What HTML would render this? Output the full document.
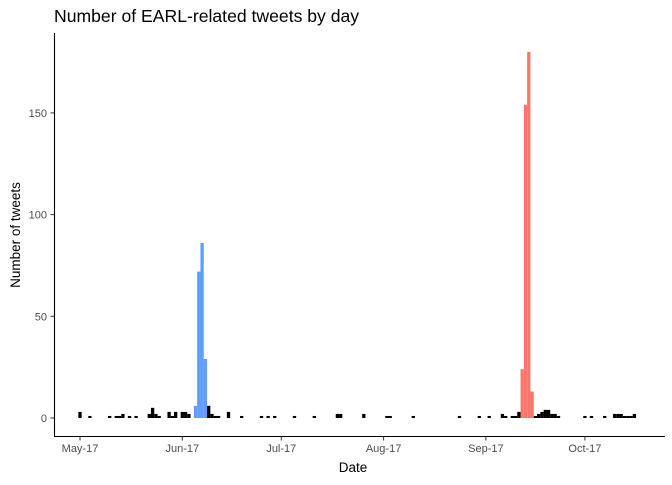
<!DOCTYPE html>
<html><head><meta charset="utf-8"><style>
body{margin:0;background:#fff;font-family:"Liberation Sans",sans-serif}
svg text{font-family:"Liberation Sans",sans-serif}
</style></head><body>
<svg id="chart" width="672" height="480">
<text x="54" y="22" font-size="17.6" fill="#000">Number of EARL-related tweets by day</text>
<line x1="54.5" y1="33" x2="54.5" y2="436" stroke="#000" stroke-width="1.1"/>
<line x1="54" y1="436.5" x2="665" y2="436.5" stroke="#000" stroke-width="1.1"/>
<text transform="translate(20,235) rotate(-90)" text-anchor="middle" font-size="13.5">Number of tweets</text>
<text x="353" y="472" text-anchor="middle" font-size="13.5">Date</text>
<g id="bars"></g><g id="ticks"></g>
</svg>
<script>
const days=[0,3,9,11,12,13,15,17,21,22,23,24,27,28,29,31,32,33,35,36,37,38,39,40,41,42,45,49,55,57,59,65,71,78,79,86,93,94,101,115,121,124,128,129,131,132,133,134,135,136,137,138,139,140,141,142,143,144,145,153,155,159,162,163,164,165,166,167,168];
const counts=[3,1,1,1,1,2,1,1,2,5,2,1,3,1,3,3,3,2,6,72,86,29,6,2,1,1,3,1,1,1,1,1,1,2,2,2,1,1,1,1,1,1,2,1,1,1,3,24,154,180,13,1,2,3,4,4,2,2,1,1,1,1,2,2,2,1,1,1,2];
const groups=days.map(d=>(d>=35&&d<=38)?'jun':((d>=134&&d<=137)?'sep':'other'));
const yTicks=[0,50,100,150];
const xTickDays=[0,31,61,92,123,153];
const xTickLabels=['May-17','Jun-17','Jul-17','Aug-17','Sep-17','Oct-17'];
const colors={jun:'#619CFF',sep:'#F8766D',other:'#000000'};
const NS='http://www.w3.org/2000/svg';
const xs=d=>80+d*3.3;
const ys=v=>418-v*2.034;
const bw=3.3;
const bars=document.getElementById('bars');
days.forEach((d,i)=>{
 const r=document.createElementNS(NS,'rect');
 r.setAttribute('x',xs(d)-bw/2);r.setAttribute('width',bw);
 r.setAttribute('y',ys(counts[i]));r.setAttribute('height',ys(0)-ys(counts[i]));
 r.setAttribute('fill',colors[groups[i]]);
 
 
 bars.appendChild(r);
});
const tk=document.getElementById('ticks');
yTicks.forEach(v=>{
 const l=document.createElementNS(NS,'line');
 l.setAttribute('x1',50.5);l.setAttribute('x2',54.5);l.setAttribute('y1',ys(v));l.setAttribute('y2',ys(v));l.setAttribute('stroke','#333');
 
 
 tk.appendChild(l);
 const t=document.createElementNS(NS,'text');
 t.setAttribute('x',47);t.setAttribute('y',ys(v)+4);t.setAttribute('text-anchor','end');t.setAttribute('font-size','11');t.setAttribute('fill','#4d4d4d');
 t.textContent=v;
 
 
 tk.appendChild(t);
});
xTickDays.forEach((d,i)=>{
 const l=document.createElementNS(NS,'line');
 l.setAttribute('x1',xs(d));l.setAttribute('x2',xs(d));l.setAttribute('y1',436.5);l.setAttribute('y2',440.5);l.setAttribute('stroke','#333');
 
 
 tk.appendChild(l);
 const t=document.createElementNS(NS,'text');
 t.setAttribute('x',xs(d));t.setAttribute('y',452);t.setAttribute('text-anchor','middle');t.setAttribute('font-size','11');t.setAttribute('fill','#4d4d4d');
 t.textContent=xTickLabels[i];
 
 
 tk.appendChild(t);
});
</script>
</body></html>
